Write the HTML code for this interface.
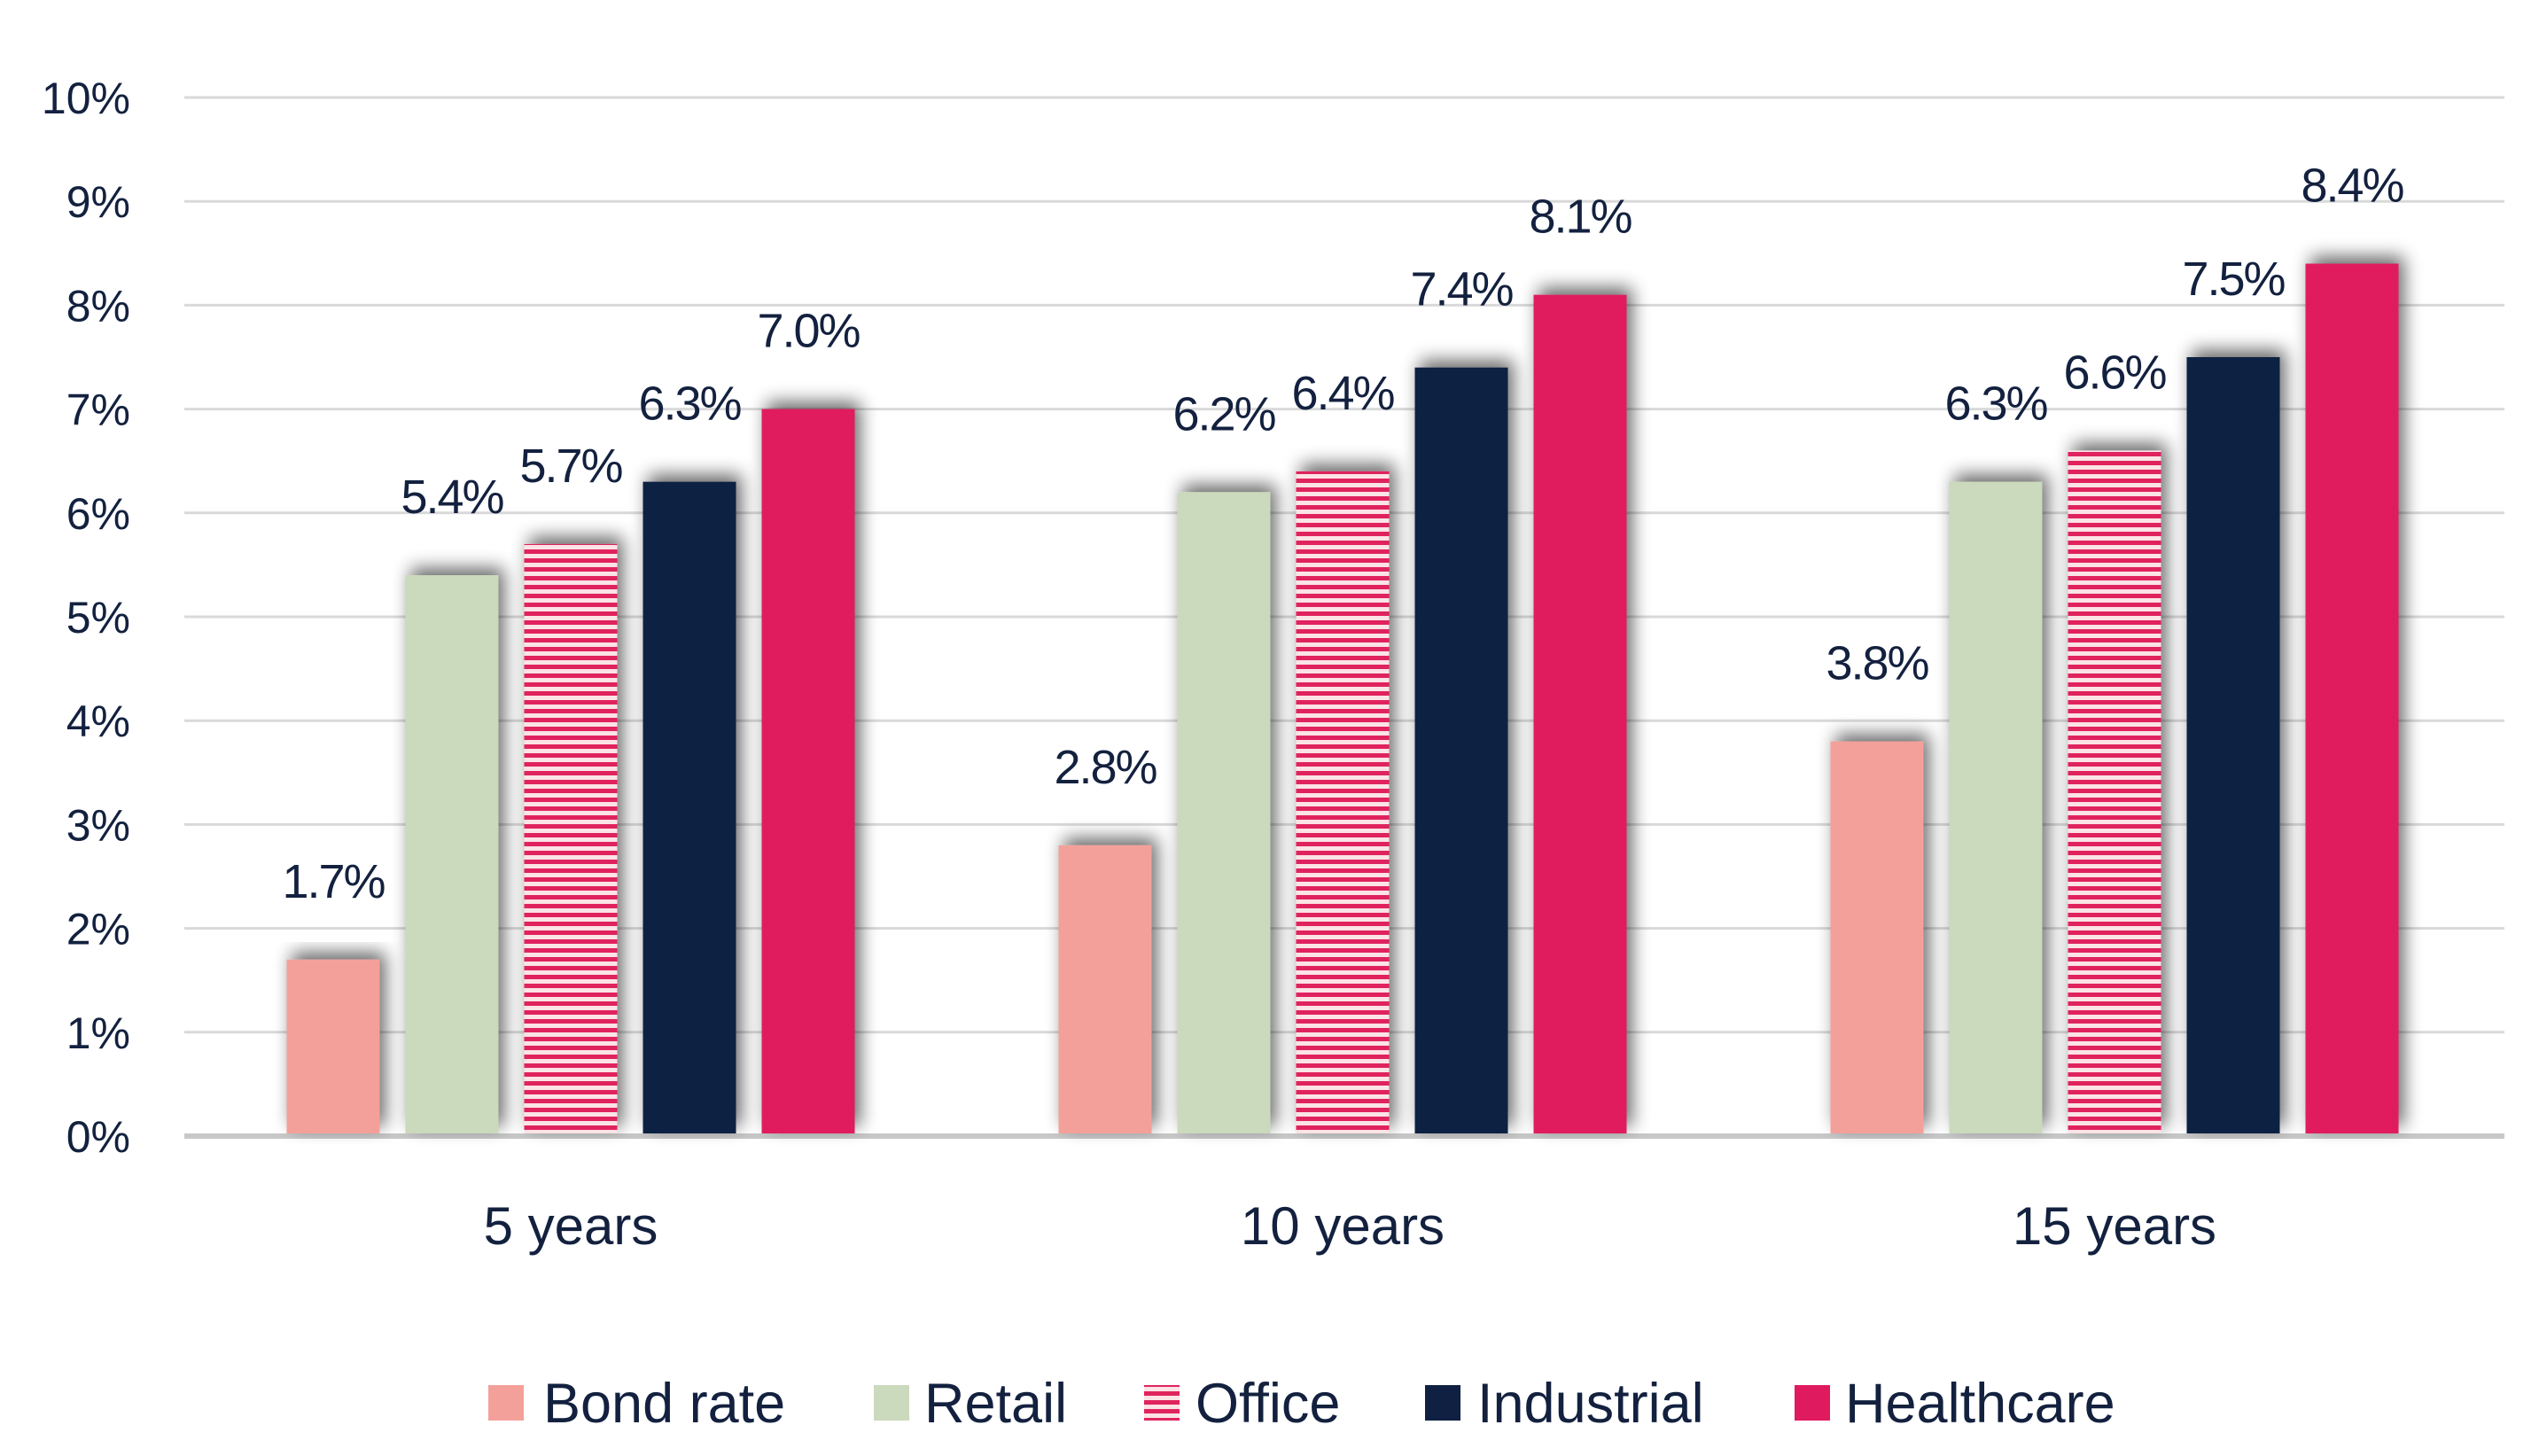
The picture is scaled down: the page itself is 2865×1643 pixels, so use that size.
<!DOCTYPE html>
<html><head><meta charset="utf-8"><style>
html,body{margin:0;padding:0;background:#fff;}
svg{display:block;font-family:"Liberation Sans",sans-serif;}
</style></head>
<body>
<svg id="chart" width="2865" height="1643" viewBox="0 0 2865 1643" xmlns="http://www.w3.org/2000/svg">
<defs>
<pattern id="stripes" width="10" height="10" patternUnits="userSpaceOnUse">
<rect width="10" height="10" fill="#fbe3e6"/>
<rect width="10" height="5" fill="#e0245e"/>
</pattern>
<filter id="shadow" x="-30%" y="-10%" width="160%" height="120%">
<feGaussianBlur in="SourceAlpha" stdDeviation="10"/>
<feOffset dx="6" dy="-8" result="b"/>
<feComponentTransfer><feFuncA type="linear" slope="0.6"/></feComponentTransfer>
<feMerge><feMergeNode/><feMergeNode in="SourceGraphic"/></feMerge>
</filter>
</defs>
<g id="grid"></g>
<g id="yticks"></g>
<g id="bars"></g>
<g id="cats"></g>
<g id="legend"></g>
</svg>
<script>
const categories = ["5 years", "10 years", "15 years"];
const seriesNames = ["Bond rate", "Retail", "Office", "Industrial", "Healthcare"];
const bondRate = [1.7, 2.8, 3.8];
const retail = [5.4, 6.2, 6.3];
const office = [5.7, 6.4, 6.6];
const industrial = [6.3, 7.4, 7.5];
const healthcare = [7.0, 8.1, 8.4];
const yTicks = [0,1,2,3,4,5,6,7,8,9,10];
const yTickLabels = ["0%","1%","2%","3%","4%","5%","6%","7%","8%","9%","10%"];

const series = [bondRate, retail, office, industrial, healthcare];
const fills = ["#f4a09a", "#cbd9bd", "url(#stripes)", "#0f2042", "#e01a5e"];
const NS = "http://www.w3.org/2000/svg";
const plotL = 208, plotR = 2826, y0 = 1282, y10 = 110;
const yScale = v => y0 - (v / 10) * (y0 - y10);
const xStart = 644, groupStep = 871;
const xScale = i => xStart + i * groupStep;
const barW = 105, pitch = 134;
const textColor = "#13213f";

function mk(tag, attrs, parent) {
  const el = document.createElementNS(NS, tag);
  for (const k in attrs) el.setAttribute(k, attrs[k]);
  parent.appendChild(el);
  return el;
}

const grid = document.getElementById("grid");
const yt = document.getElementById("yticks");
yTicks.forEach((t, i) => {
  const y = yScale(t);
  const ln = mk("line", {x1: plotL, x2: plotR, y1: y, y2: y, stroke: t === 0 ? "#c8c8c8" : "#d9d9d9", "stroke-width": t === 0 ? 6 : 3}, grid);
  
  
  const tx = mk("text", {x: 147, y: y + 18, "text-anchor": "end", "font-size": 50, fill: textColor}, yt);
  tx.textContent = yTickLabels[i];
  
  
});

const bars = document.getElementById("bars");
const cats = document.getElementById("cats");
categories.forEach((c, gi) => {
  const cx = xScale(gi);
  series.forEach((s, si) => {
    const v = s[gi];
    const x = cx + (si - 2) * pitch - barW / 2;
    const y = yScale(v);
    const r = mk("rect", {x: x, y: y, width: barW, height: y0 - 3 - y, fill: fills[si], filter: "url(#shadow)"}, bars);
    
    
    const lb = mk("text", {x: x + barW / 2, y: y - 70, "text-anchor": "middle", "font-size": 54, fill: textColor, "letter-spacing": "-2"}, bars);
    lb.textContent = v.toFixed(1) + "%";
    
    
  });
  const ct = mk("text", {x: cx, y: 1404, "text-anchor": "middle", "font-size": 60, fill: textColor}, cats);
  ct.textContent = c;
  
  
});

const legend = document.getElementById("legend");
const legX = [551, 986, 1291, 1608, 2025];
const legTX = [613, 1043, 1349, 1667, 2082];
seriesNames.forEach((n, i) => {
  const g = mk("g", {}, legend);
  
  
  mk("rect", {x: legX[i], y: 1563, width: 40, height: 40, fill: fills[i]}, g);
  const t = mk("text", {x: legTX[i], y: 1605, "font-size": 63, fill: textColor}, g);
  t.textContent = n;
});
</script>
</body></html>
